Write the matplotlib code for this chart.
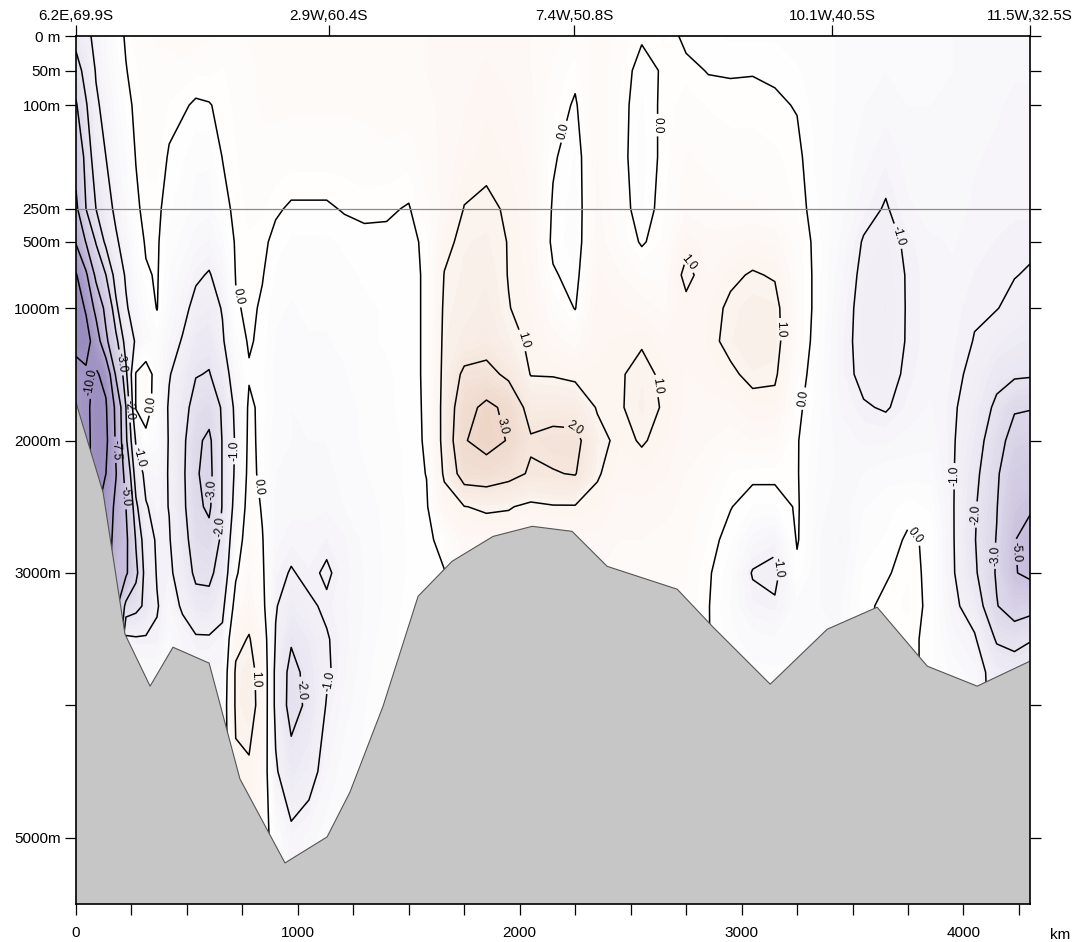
import numpy as np
import matplotlib
matplotlib.use('Agg')
import matplotlib.pyplot as plt
from matplotlib.colors import LinearSegmentedColormap, Normalize

plt.rcParams['font.family'] = ['Liberation Sans', 'DejaVu Sans']
plt.rcParams['contour.negative_linestyle'] = 'solid'

# section geometry: station distance along track (km) and sample depths (m)
station_km = [0, 45, 90, 135, 180, 225, 270, 315, 365, 420, 480, 540, 600, 660, 720, 780, 840, 900,
              970, 1050, 1130, 1210, 1300, 1400, 1500, 1580, 1660, 1750, 1850, 1950, 2050, 2150, 2250,
              2350, 2450, 2550, 2650, 2750, 2850, 2950, 3050, 3150, 3250, 3350, 3450, 3550, 3650, 3750,
              3850, 3950, 4050, 4150, 4230, 4300]
depth_m = [0, 50, 100, 175, 250, 500, 750, 1000, 1250, 1500, 1750, 2000, 2250, 2500, 2750, 3000,
           3250, 3500, 3750, 4000, 4500, 5000, 5500]

profiles = [
    [-1.6, -2.5, -3.1, -4.3, -5.4, -7.3, -10.2, -11.0, -10.6, -9.3, -9.2, -9.2, -9.2, -9.2, -9.2, -9.2, -9.2, -9.2, -9.2, -9.2, -9.2, -9.2, -9.2],
    [-1.2, -1.6, -2.1, -2.6, -3.0, -4.9, -7.9, -9.8, -10.8, -9.7, -9.7, -9.7, -9.7, -9.7, -9.7, -9.7, -9.7, -9.7, -9.7, -9.7, -9.7, -9.7, -9.7],
    [-0.8, -0.95, -1.1, -1.5, -2.0, -2.9, -4.5, -6.8, -9.0, -10.2, -10.5, -10.4, -10.4, -10.4, -10.4, -10.4, -10.4, -10.4, -10.4, -10.4, -10.4, -10.4, -10.4],
    [-0.5, -0.6, -0.8, -1.0, -1.3, -1.8, -3.0, -4.4, -5.4, -9.5, -10.2, -10.5, -10.0, -9.0, -9.0, -9.0, -9.0, -9.0, -9.0, -9.0, -9.0, -9.0, -9.0],
    [-0.2, -0.3, -0.45, -0.6, -0.85, -1.1, -1.6, -2.2, -3.3, -4.7, -7.0, -7.2, -7.6, -7.0, -6.5, -5.5, -5.5, -5.5, -5.5, -5.5, -5.5, -5.5, -5.5],
    [0.05, -0.02, -0.15, -0.35, -0.5, -0.7, -0.9, -1.1, -1.6, -2.2, -3.0, -3.2, -4.2, -5.0, -5.4, -5.3, -2.6, -0.8, -0.8, -0.8, -0.8, -0.8, -0.8],
    [0.2, 0.15, 0.1, 0.02, -0.1, -0.25, -0.4, -0.6, -0.9, 0.05, 0.05, -0.9, -1.5, -2.2, -2.9, -3.3, -2.3, -0.9, -0.5, -0.5, -0.5, -0.5, -0.5],
    [0.3, 0.25, 0.2, 0.18, 0.15, 0.05, -0.05, -0.3, -0.4, 0.25, 0.25, -0.15, -0.8, -1.05, -1.4, -1.6, -1.8, -0.9, -0.5, -0.5, -0.5, -0.5, -0.5],
    [0.35, 0.3, 0.3, 0.25, 0.08, 0.05, 0.04, 0.02, -0.3, -0.2, -0.25, -0.45, -0.65, -0.8, -0.9, -0.95, -1.05, -0.9, -0.5, -0.5, -0.5, -0.5, -0.5],
    [0.35, 0.3, 0.15, -0.05, -0.15, -0.25, -0.35, -0.5, -0.7, -0.95, -1.1, -1.05, -1.05, -1.02, -0.95, -0.85, -0.65, -0.45, -0.45, -0.45, -0.45, -0.45, -0.45],
    [0.4, 0.3, 0.05, -0.15, -0.25, -0.4, -0.6, -0.8, -1.05, -1.4, -1.6, -1.75, -1.8, -1.75, -1.6, -1.4, -1.1, -0.7, -0.6, -0.6, -0.6, -0.6, -0.6],
    [0.4, 0.2, -0.05, -0.3, -0.4, -0.6, -0.9, -1.2, -1.6, -1.95, -2.4, -2.8, -2.9, -2.8, -2.5, -2.2, -1.6, -0.9, -0.7, -0.7, -0.7, -0.7, -0.7],
    [0.35, 0.2, -0.02, -0.3, -0.45, -0.7, -1.05, -1.35, -1.7, -2.05, -2.6, -3.2, -3.3, -3.15, -2.7, -2.2, -1.7, -0.9, -0.7, -0.7, -0.7, -0.7, -0.7],
    [0.3, 0.15, 0.08, 0.01, -0.15, -0.4, -0.7, -0.95, -1.1, -1.5, -1.9, -1.95, -1.95, -1.95, -1.8, -1.6, -1.2, -0.8, -0.6, -0.5, -0.5, -0.5, -0.5],
    [0.3, 0.25, 0.2, 0.15, 0.1, 0.05, 0.02, -0.05, -0.25, -0.5, -0.8, -0.9, -0.85, -0.7, -0.4, -0.1, 0.3, 0.8, 1.1, 1.1, 0.9, 0.9, 0.9],
    [0.35, 0.3, 0.3, 0.25, 0.2, 0.15, 0.1, 0.08, 0.05, -0.05, 0.1, 0.15, 0.2, 0.3, 0.4, 0.5, 0.7, 1.05, 1.25, 1.3, 0.9, 0.8, 0.8],
    [0.4, 0.35, 0.35, 0.3, 0.2, 0.08, 0.02, -0.05, -0.1, -0.15, -0.12, -0.15, -0.15, -0.05, 0.03, 0.1, 0.2, 0.5, 0.7, 0.7, 0.5, 0.3, 0.3],
    [0.45, 0.4, 0.35, 0.3, 0.05, -0.1, -0.2, -0.3, -0.35, -0.4, -0.4, -0.45, -0.5, -0.55, -0.6, -0.8, -0.95, -1.05, -1.2, -1.2, -0.9, -0.3, -0.3],
    [0.45, 0.4, 0.35, 0.25, -0.05, -0.2, -0.3, -0.35, -0.4, -0.45, -0.5, -0.5, -0.55, -0.6, -0.8, -1.05, -1.4, -1.9, -2.3, -2.35, -1.6, -0.8, -0.8],
    [0.45, 0.4, 0.35, 0.25, -0.05, -0.2, -0.25, -0.3, -0.35, -0.4, -0.45, -0.5, -0.55, -0.6, -0.75, -0.85, -1.1, -1.5, -1.7, -1.8, -1.3, -0.6, -0.6],
    [0.45, 0.4, 0.35, 0.25, -0.05, -0.2, -0.25, -0.3, -0.35, -0.4, -0.45, -0.5, -0.55, -0.65, -0.85, -1.1, -0.9, -1.05, -1.1, -0.95, -0.7, -0.4, -0.4],
    [0.45, 0.4, 0.35, 0.25, 0.03, -0.15, -0.2, -0.25, -0.3, -0.35, -0.4, -0.45, -0.45, -0.5, -0.7, -0.75, -0.7, -0.75, -0.7, -0.6, -0.4, -0.4, -0.4],
    [0.45, 0.4, 0.35, 0.3, 0.08, -0.1, -0.15, -0.2, -0.2, -0.25, -0.3, -0.3, -0.35, -0.4, -0.45, -0.5, -0.5, -0.45, -0.4, -0.35, -0.3, -0.3, -0.3],
    [0.5, 0.45, 0.4, 0.3, 0.05, -0.08, -0.12, -0.15, -0.15, -0.2, -0.2, -0.25, -0.25, -0.3, -0.3, -0.3, -0.3, -0.25, -0.2, -0.2, -0.2, -0.2, -0.2],
    [0.5, 0.45, 0.4, 0.25, -0.03, -0.1, -0.1, -0.1, -0.1, -0.1, -0.12, -0.12, -0.13, -0.14, -0.15, -0.15, -0.1, -0.1, -0.1, -0.1, -0.1, -0.1, -0.1],
    [0.5, 0.5, 0.45, 0.4, 0.3, 0.08, 0.05, 0.05, 0.05, 0.05, 0.05, 0.04, 0.01, -0.05, -0.1, -0.1, -0.1, -0.1, -0.1, -0.1, -0.1, -0.1, -0.1],
    [0.55, 0.55, 0.55, 0.55, 0.55, 0.85, 1.02, 1.1, 1.15, 1.2, 1.25, 1.25, 1.1, 0.7, 0.15, -0.02, -0.02, -0.02, -0.02, -0.02, -0.02, -0.02, -0.02],
    [0.55, 0.6, 0.65, 0.75, 1.02, 1.15, 1.2, 1.25, 1.4, 2.2, 2.7, 2.95, 2.5, 0.98, 0.6, 0.5, 0.5, 0.5, 0.5, 0.5, 0.5, 0.5, 0.5],
    [0.6, 0.7, 0.8, 0.9, 1.08, 1.2, 1.3, 1.4, 1.6, 2.3, 3.2, 3.3, 2.6, 1.1, 0.6, 0.6, 0.6, 0.6, 0.6, 0.6, 0.6, 0.6, 0.6],
    [0.55, 0.6, 0.7, 0.8, 0.95, 0.98, 0.98, 1.02, 1.2, 1.8, 2.8, 2.95, 2.3, 1.05, 0.6, 0.6, 0.6, 0.6, 0.6, 0.6, 0.6, 0.6, 0.6],
    [0.5, 0.5, 0.55, 0.6, 0.65, 0.7, 0.75, 0.8, 0.9, 0.97, 1.6, 2.1, 1.9, 0.85, 0.5, 0.5, 0.5, 0.5, 0.5, 0.5, 0.5, 0.5, 0.5],
    [0.4, 0.3, 0.2, 0.05, -0.05, -0.1, 0.05, 0.3, 0.6, 0.95, 1.6, 2.3, 1.95, 0.95, 0.6, 0.6, 0.6, 0.6, 0.6, 0.6, 0.6, 0.6, 0.6],
    [0.25, 0.1, -0.05, -0.2, -0.25, -0.25, -0.15, -0.02, 0.4, 0.85, 1.5, 2.3, 2.05, 0.95, 0.6, 0.6, 0.6, 0.6, 0.6, 0.6, 0.6, 0.6, 0.6],
    [0.4, 0.45, 0.5, 0.5, 0.55, 0.6, 0.7, 0.75, 0.8, 0.85, 0.95, 1.2, 1.05, 0.85, 0.6, 0.5, 0.5, 0.5, 0.5, 0.5, 0.5, 0.5, 0.5],
    [0.3, 0.2, 0.15, 0.15, 0.2, 0.3, 0.5, 0.7, 0.85, 0.95, 0.95, 0.85, 0.75, 0.6, 0.5, 0.4, 0.4, 0.4, 0.4, 0.4, 0.4, 0.4, 0.4],
    [0.05, -0.15, -0.2, -0.25, -0.2, -0.05, 0.3, 0.6, 0.95, 1.15, 1.2, 1.05, 0.8, 0.6, 0.5, 0.4, 0.4, 0.4, 0.4, 0.4, 0.4, 0.4, 0.4],
    [0.2, 0.05, 0.08, 0.1, 0.15, 0.2, 0.3, 0.45, 0.7, 0.9, 0.95, 0.85, 0.7, 0.55, 0.45, 0.35, 0.35, 0.35, 0.35, 0.35, 0.35, 0.35, 0.35],
    [-0.1, 0.1, 0.25, 0.35, 0.45, 0.8, 1.2, 0.8, 0.7, 0.65, 0.6, 0.55, 0.5, 0.45, 0.4, 0.35, 0.3, 0.3, 0.3, 0.3, 0.3, 0.3, 0.3],
    [-0.15, -0.02, 0.15, 0.3, 0.4, 0.55, 0.65, 0.8, 0.85, 0.75, 0.6, 0.5, 0.4, 0.25, 0.15, 0.05, 0.02, 0.02, 0.02, 0.02, 0.02, 0.02, 0.02],
    [-0.2, -0.03, 0.1, 0.25, 0.35, 0.6, 0.9, 1.1, 1.15, 0.9, 0.6, 0.4, 0.15, 0.02, -0.15, -0.3, -0.35, -0.3, -0.3, -0.3, -0.3, -0.3, -0.3],
    [-0.2, -0.02, 0.1, 0.25, 0.35, 0.7, 1.05, 1.25, 1.3, 1.15, 0.8, 0.5, 0.1, -0.2, -0.6, -1.05, -0.8, -0.4, -0.3, -0.3, -0.3, -0.3, -0.3],
    [-0.2, -0.05, 0.05, 0.2, 0.3, 0.6, 0.95, 1.2, 1.25, 1.1, 0.8, 0.45, 0.1, -0.2, -0.8, -1.2, -0.9, -0.5, -0.3, -0.3, -0.3, -0.3, -0.3],
    [-0.25, -0.15, -0.02, 0.08, 0.15, 0.25, 0.3, 0.3, 0.3, 0.2, 0.1, 0.03, 0.03, 0.05, 0.04, -0.1, -0.4, -0.4, -0.3, -0.3, -0.3, -0.3, -0.3],
    [-0.3, -0.3, -0.3, -0.25, -0.2, -0.15, -0.15, -0.15, -0.2, -0.25, -0.3, -0.35, -0.4, -0.45, -0.5, -0.5, -0.5, -0.45, -0.45, -0.45, -0.45, -0.45, -0.45],
    [-0.35, -0.35, -0.35, -0.4, -0.45, -0.55, -0.65, -0.75, -0.8, -0.8, -0.7, -0.6, -0.55, -0.6, -0.7, -0.6, -0.5, -0.5, -0.5, -0.5, -0.5, -0.5, -0.5],
    [-0.4, -0.45, -0.5, -0.6, -0.8, -1.05, -1.15, -1.2, -1.2, -1.15, -0.95, -0.7, -0.5, -0.35, -0.25, -0.15, -0.1, -0.1, -0.1, -0.1, -0.1, -0.1, -0.1],
    [-0.45, -0.5, -0.6, -0.8, -1.05, -1.2, -1.3, -1.35, -1.3, -1.2, -1.05, -0.7, -0.4, -0.25, -0.15, -0.05, 0.1, 0.1, 0.1, 0.1, 0.1, 0.1, 0.1],
    [-0.45, -0.45, -0.5, -0.6, -0.7, -0.9, -0.95, -0.95, -0.95, -0.9, -0.8, -0.6, -0.4, -0.1, 0.05, 0.15, 0.2, 0.1, 0.1, 0.1, 0.1, 0.1, 0.1],
    [-0.45, -0.45, -0.5, -0.55, -0.6, -0.7, -0.75, -0.75, -0.75, -0.7, -0.65, -0.55, -0.4, -0.2, -0.05, -0.1, -0.1, -0.1, -0.1, -0.1, -0.1, -0.1, -0.1],
    [-0.5, -0.5, -0.55, -0.55, -0.6, -0.65, -0.7, -0.75, -0.8, -0.85, -0.9, -0.92, -0.93, -0.93, -0.92, -0.9, -0.8, -0.6, -0.4, -0.4, -0.4, -0.4, -0.4],
    [-0.5, -0.55, -0.6, -0.65, -0.7, -0.75, -0.85, -0.95, -1.02, -1.15, -1.35, -1.55, -1.75, -1.9, -1.95, -1.85, -1.4, -0.9, -0.6, -0.5, -0.5, -0.5, -0.5],
    [-0.55, -0.6, -0.65, -0.7, -0.75, -0.85, -0.9, -0.98, -1.3, -1.7, -2.2, -2.6, -2.85, -2.95, -3.05, -3.1, -2.95, -2.1, -1.4, -1.4, -1.4, -1.4, -1.4],
    [-0.6, -0.65, -0.7, -0.75, -0.8, -0.9, -0.98, -1.15, -1.45, -1.85, -2.9, -3.4, -3.9, -4.4, -4.95, -4.9, -3.6, -2.3, -1.5, -1.5, -1.5, -1.5, -1.5],
    [-0.6, -0.65, -0.7, -0.75, -0.8, -0.9, -1.05, -1.25, -1.55, -1.9, -2.95, -3.5, -4.1, -4.8, -5.6, -5.4, -3.4, -2.05, -1.5, -1.5, -1.5, -1.5, -1.5],
]

# sea floor along the section
bottom_km = [0, 122, 221, 334, 437, 600, 739, 942, 1132, 1235, 1384, 1542, 1695, 1880, 2056, 2236,
             2394, 2710, 2872, 3129, 3386, 3611, 3837, 4062, 4300]
bottom_m = [1713, 2392, 3463, 3855, 3561, 3681, 4556, 5190, 4993, 4654, 4006, 3176, 2912, 2724, 2648,
            2686, 2950, 3123, 3410, 3840, 3425, 3259, 3704, 3855, 3666]

line_levels = [-10, -7.5, -5, -3, -2, -1, 0, 1, 2, 3]

# where the contour labels sit (km, m)
label_km = [63, 205, 243, 176, 228, 302, 338, 726, 703, 604, 663, 816, 798, 1032, 1168,
            2218, 2624, 1988, 1943, 2259, 2768, 2610, 3174, 3309, 3683, 3160, 3837, 3972, 4076,
            4130, 4243]
label_m = [1560, 1410, 1765, 2070, 2420, 2120, 1730, 914, 2080, 2370, 2650, 2350, 3800, 3880, 3825,
           140, 129, 1260, 1880, 1860, 650, 1590, 1160, 1690, 470, 2960, 2630, 2270, 2560,
           2870, 2840]

ytick_m = [0, 50, 100, 250, 500, 1000, 2000, 3000, 4000, 5000]
ytick_labels = ['0 m', '50m', '100m', '250m', '500m', '1000m', '2000m', '3000m', '', '5000m']
top_km = [0, 1140, 2245, 3408, 4300]
top_labels = ['6.2E,69.9S', '2.9W,60.4S', '7.4W,50.8S', '10.1W,40.5S', '11.5W,32.5S']

field = np.array(profiles).T


# upper 250 m stretched, rest linear
def fwd(d):
    d = np.asarray(d, dtype=float)
    return np.where(d <= 250, d * 0.692, 173.0 + (d - 250) * 0.1326)


def inv(y):
    y = np.asarray(y, dtype=float)
    return np.where(y <= 173.0, y / 0.692, 250 + (y - 173.0) / 0.1326)


cvals = [-12, -10, -7.5, -5, -3, -2, -1, 0, 1, 2, 3, 4]
ccols = ['#8d7eb4', '#9f92c2', '#b3a8cf', '#c9c1dd', '#dcd7e9', '#e7e4f0', '#f3f1f7', '#ffffff',
         '#fcf4ef', '#f6e7dd', '#f0dace', '#e9ccb9']
cmap = LinearSegmentedColormap.from_list('sec', [((v + 12) / 16, c) for v, c in zip(cvals, ccols)])
norm = Normalize(-12, 4)

fig = plt.figure(figsize=(10.75, 9.42), dpi=100)
ax = fig.add_axes([76 / 1075, 38 / 942, 954 / 1075, 868 / 942])
ax.set_yscale('function', functions=(fwd, inv))
ax.set_xlim(0, 4300)
ax.set_ylim(5500, 0)

X, Y = np.meshgrid(station_km, depth_m)
ax.contourf(X, Y, field, levels=np.linspace(-12, 4, 97), cmap=cmap, norm=norm, extend='both', zorder=1)
cs = ax.contour(X, Y, field, levels=line_levels, colors='k', linewidths=1.1, zorder=2)
texts = ax.clabel(cs, fmt='%.1f', fontsize=8.5, inline=True, inline_spacing=3,
                  manual=list(zip(label_km, label_m)))
for t in texts:
    t.set_zorder(5)

ax.fill_between(bottom_km, bottom_m, 5600, facecolor='#c6c6c6', edgecolor='none', zorder=3)
ax.plot(bottom_km, bottom_m, color='#555555', lw=0.8, zorder=3.5)
ax.axhline(250, color='#8a8a8a', lw=0.9, zorder=4)

ax.set_xticks([0, 1000, 2000, 3000, 4000])
ax.set_xticks(np.arange(0, 4300, 250), minor=True)
ax.set_yticks(ytick_m)
ax.set_yticklabels(ytick_labels)
ax.yaxis.set_minor_locator(matplotlib.ticker.NullLocator())
ax.tick_params(axis='x', which='both', length=8, width=0.9, direction='out', labelsize=11, pad=8)
ax.tick_params(axis='y', which='both', length=8, width=0.9, direction='out', labelsize=11,
               right=True, pad=3)
for s in ax.spines.values():
    s.set_linewidth(1.2)
    s.set_zorder(6)

sec = ax.secondary_xaxis('top')
sec.set_xticks(top_km)
sec.set_xticklabels(top_labels)
sec.tick_params(length=8, width=0.9, direction='out', labelsize=11, pad=1)

ax.annotate('km', xy=(1.021, -0.028), xycoords='axes fraction', ha='left', va='top', fontsize=11)

fig.savefig('out.png', dpi=100)
